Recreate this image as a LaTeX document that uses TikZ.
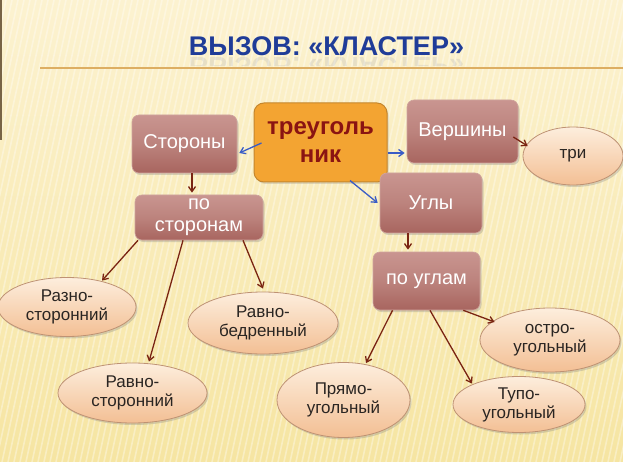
\documentclass[tikz,border=0pt]{standalone}
\usepackage{fontspec}
\setmainfont{Liberation Sans}
\usetikzlibrary{shapes.geometric,arrows.meta,calc,shadows}
\definecolor{bgtop}{HTML}{FCF2D0}
\definecolor{bgbot}{HTML}{F6E5A2}
\definecolor{titleblue}{HTML}{1F3C98}
\definecolor{linecol}{HTML}{DDAE62}
\definecolor{boxtop}{HTML}{C99590}
\definecolor{boxmid}{HTML}{BC837D}
\definecolor{boxbot}{HTML}{A8655F}
\definecolor{boxedge}{HTML}{CFA49C}
\definecolor{ovtop}{HTML}{FDEEDD}
\definecolor{ovbot}{HTML}{F3BF94}
\definecolor{ovedge}{HTML}{BE9274}
\definecolor{ovtext}{HTML}{2A2522}
\definecolor{centfill}{HTML}{F3A432}
\definecolor{centedge}{HTML}{C4862E}
\definecolor{centtext}{HTML}{8A1412}
\definecolor{redarrow}{HTML}{7A2412}
\definecolor{bluearrow}{HTML}{3A5CC6}
\begin{document}
\begin{tikzpicture}[x=1pt,y=-1pt,
  box/.style={rectangle, rounded corners=7pt, top color=boxtop, bottom color=boxbot, middle color=boxmid,
    draw=boxedge, line width=0.6pt, text=white, font=\fontsize{20}{22}\selectfont, align=center, inner sep=0pt,
    drop shadow={opacity=0.3,shadow xshift=1.5pt,shadow yshift=-2pt}},
  oval/.style={ellipse, top color=ovtop, bottom color=ovbot, draw=ovedge, line width=0.8pt, text=ovtext,
    font=\fontsize{17}{19}\selectfont, align=center, inner sep=0pt,
    drop shadow={opacity=0.3,shadow xshift=1.5pt,shadow yshift=-2pt}},
  central/.style={rectangle, rounded corners=10pt, fill=centfill, draw=centedge, line width=1pt, text=centtext,
    font=\fontsize{24}{28}\selectfont\bfseries, align=center, inner sep=0pt,
    drop shadow={opacity=0.25,shadow xshift=1.5pt,shadow yshift=-2pt}},
  redarr/.style={draw=redarrow, line width=1.3pt, -{Straight Barb[length=5pt,width=7pt]}},
  bluearr/.style={draw=bluearrow, line width=1.3pt, -{Straight Barb[length=5pt,width=7pt]}}
]
\useasboundingbox (0,0) rectangle (623,462);
\shade[top color=bgtop,bottom color=bgbot] (0,0) rectangle (623,462);
\begin{scope}
  \clip (0,0) rectangle (623,462);
  \foreach \i in {-130,-124,...,623} \draw[white,opacity=0.35,line width=1.6pt] (\i,462) -- (\i+100,0);
\end{scope}
\draw[draw={rgb,255:red,120;green,100;blue,70}, line width=2pt] (1,0) -- (1,140);

% title
\node[font=\fontsize{27}{30}\selectfont\bfseries, text=titleblue, anchor=base, inner sep=0pt] (title) at (326.5,56) {ВЫЗОВ: «КЛАСТЕР»};
\begin{scope}
  \clip (150,57) rectangle (500,66);
  \node[font=\fontsize{27}{30}\selectfont\bfseries, text=titleblue, anchor=base, inner sep=0pt, yscale=-1, transform shape, opacity=0.09] (titlerefl) at (326.5,58) {ВЫЗОВ: «КЛАСТЕР»};
\end{scope}
\draw[linecol, line width=1.6pt] (40,68) -- (623,68);

% nodes
\node[central, minimum width=133pt, minimum height=79pt] (tri) at (320.5,142.5) {треуголь\\ник};
\node[box, minimum width=105pt, minimum height=58pt] (storony) at (184.5,144) {Стороны};
\node[box, minimum width=111pt, minimum height=63pt] (vershiny) at (462.5,131.5) {Вершины};
\node[oval, minimum width=100pt, minimum height=58pt] (three) at (573,156) {три};
\node[box, minimum width=128pt, minimum height=45pt] (posto) at (199,217.5) {по\\сторонам};
\node[box, minimum width=102pt, minimum height=60pt] (ugly) at (431,203) {Углы};
\node[box, minimum width=107pt, minimum height=58pt] (pougl) at (426.5,281) {по углам};
\node[oval, minimum width=138pt, minimum height=59pt] (razno) at (67,307) {Разно-\\сторонний};
\node[oval, minimum width=150pt, minimum height=62pt] (ravnobed) at (263,323) {Равно-\\бедренный};
\node[oval, minimum width=149pt, minimum height=60pt] (ravnostor) at (132.5,393) {Равно-\\сторонний};
\node[oval, minimum width=133pt, minimum height=75pt] (pryamo) at (343.5,400) {Прямо-\\угольный};
\node[oval, minimum width=140pt, minimum height=64pt] (ostro) at (550,340) {остро-\\угольный};
\node[oval, minimum width=132pt, minimum height=56pt] (tupo) at (519,404.5) {Тупо-\\угольный};

% connectors
\draw[bluearr] ($(tri.west)+(8,0.5)$) -- ($(storony.east)+(2,9)$);
\draw[bluearr] ($(tri.east)+(0,10.5)$) -- ($(vershiny.west)+(-2,21.5)$);
\draw[bluearr] ($(tri.south)+(29.5,-2)$) -- ($(ugly.west)+(-2,0)$);
\draw[redarr] ($(storony.south)+(7.5,0)$) -- ($(posto.north)+(-7,-2)$);
\draw[redarr] ($(posto.south)+(-61,0)$) -- ($(razno.north)+(35,3.5)$);
\draw[redarr] ($(posto.south)+(-16,0)$) -- ($(ravnostor.north)+(16.5,-1)$);
\draw[redarr] ($(posto.south)+(44,0)$) -- ($(ravnobed.north)+(0,-3)$);
\draw[redarr] ($(vershiny.east)+(-5,5.5)$) -- ($(three.west)+(5,-10)$);
\draw[redarr] ($(ugly.south)+(-23,0)$) -- ($(pougl.north)+(-18.5,-2)$);
\draw[redarr] ($(pougl.south)+(-34,0)$) -- ($(pryamo.north)+(22.5,1)$);
\draw[redarr] ($(pougl.south)+(3.5,0)$) -- ($(tupo.north)+(-47,7.5)$);
\draw[redarr] ($(pougl.south east)+(-17,0)$) -- ($(ostro.west)+(15,-18)$);
\end{tikzpicture}
\end{document}
